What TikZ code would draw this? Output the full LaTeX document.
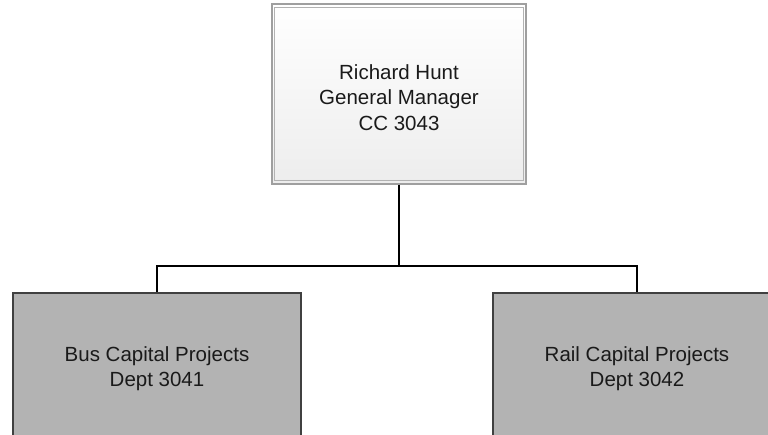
\documentclass[tikz,border=0pt]{standalone}
\usepackage{fontspec}
\setmainfont{Liberation Sans}
\definecolor{boxgray}{HTML}{B3B3B3}
\definecolor{boxedge}{HTML}{404040}
\definecolor{topfill}{HTML}{EDEDED}
\definecolor{txt}{HTML}{1A1A1A}
\tikzset{
  topbox/.style={rectangle, draw=gray!75, line width=1.4pt, top color=white, bottom color=topfill,
    minimum width=254pt, minimum height=180pt, inner sep=0pt},
  deptbox/.style={rectangle, draw=boxedge, line width=1.5pt, fill=boxgray,
    minimum width=288pt, minimum height=147pt, inner sep=0pt},
  boxtext/.style={align=center, inner sep=0pt, text=txt, font=\fontsize{20.5}{25.5}\selectfont},
  conn/.style={draw=black, line width=1.5pt}
}
\begin{document}
\begin{tikzpicture}[x=1pt,y=-1pt]
\useasboundingbox (0,0) rectangle (768,435);
\clip (0,0) rectangle (768,435);
\fill[white] (0,0) rectangle (768,435);
\node[topbox] (gm) at (399,94) {};
\draw[gray!60, line width=1pt] ([shift={(3.5pt,-4.5pt)}]gm.north west) rectangle ([shift={(-3.5pt,4.5pt)}]gm.south east);
\node[boxtext] (gmt) at ([yshift=-3.5pt]gm.center) {Richard Hunt\\General Manager\\CC 3043};
\fill[gray!15] (492,293) rectangle (495,440);
\node[deptbox] (bus) at (157,366.5) {};
\node[deptbox] (rail) at (637,366.5) {};
\node[boxtext] (bust) at ([yshift=-2pt]bus.center) {Bus Capital Projects\\Dept 3041};
\node[boxtext] (railt) at ([yshift=-2pt]rail.center) {Rail Capital Projects\\Dept 3042};
\coordinate (j) at (399,266);
\draw[conn] (gm.south) -- (j);
\draw[conn] (bus.north) |- (j) -| (rail.north);
\end{tikzpicture}
\end{document}
